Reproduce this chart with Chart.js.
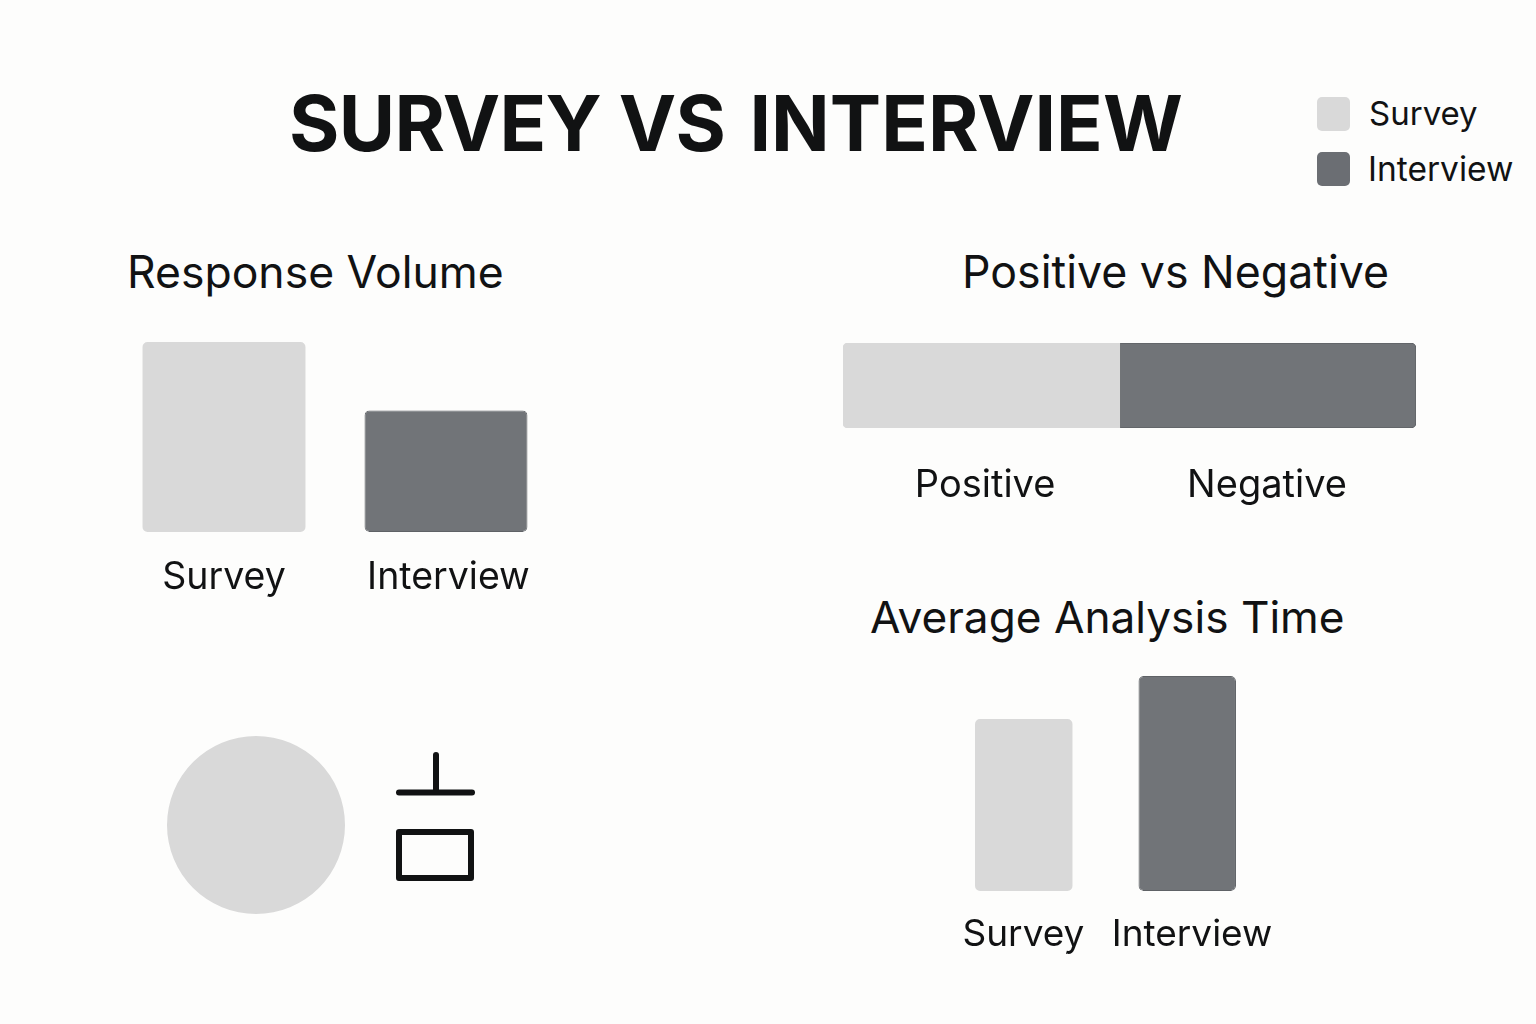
<!DOCTYPE html>
<html lang="en">
<head>
<meta charset="utf-8">
<title>Survey vs Interview</title>
<script src="https://cdn.jsdelivr.net/npm/chart.js@4"></script>
<style>
  html, body { margin: 0; padding: 0; width: 1536px; height: 1024px; overflow: hidden; background: #fdfdfc; }
  body { position: relative; font-family: Inter, "Noto Sans", sans-serif; color: #111213; }
  .t { position: absolute; white-space: nowrap; line-height: 1; margin: 0; font-weight: 400; }
  canvas { position: absolute; }
  .sw { position: absolute; width: 33px; height: 34px; border-radius: 5px; }
  svg { position: absolute; left: 380px; top: 740px; }
</style>
</head>
<body>
<h1 class="t" style="left:289px;top:85px;font-size:77px;font-weight:700;"><span style="letter-spacing:-0.7px;">SURVEY VS</span><span style="margin-left:6px;"> INTERVIEW</span></h1>
<h2 class="t" style="left:127px;top:250px;font-size:44.5px;">Response Volume</h2>
<h2 class="t" style="left:962px;top:250px;font-size:44.7px;">Positive vs Negative</h2>
<h2 class="t" style="left:870px;top:595px;font-size:44.2px;">Average Analysis Time</h2>

<div class="sw" style="left:1317px;top:97px;background:#d9d9d9;"></div>
<div class="sw" style="left:1317px;top:152px;background:#6b6e73;"></div>
<div class="t" style="left:1369px;top:97px;font-size:33px;">Survey</div>
<div class="t" style="left:1368px;top:153px;font-size:33.5px;">Interview</div>

<canvas id="volume" width="444" height="270" style="left:113px;top:342px;"></canvas>
<canvas id="polarity" width="573" height="175" style="left:843px;top:343px;"></canvas>
<canvas id="time" width="347" height="295" style="left:941.5px;top:676px;"></canvas>
<canvas id="circle" width="178" height="178" style="left:166.5px;top:736px;"></canvas>

<svg width="110" height="150" viewBox="380 740 110 150" fill="none" stroke="#111213" stroke-width="6" stroke-linecap="round" stroke-linejoin="round">
  <path d="M436 755V792"/>
  <path d="M399 792.5H472"/>
  <rect x="399" y="832" width="72" height="46"/>
</svg>

<script>
const LIGHT = '#d9d9d9';
const DARK = '#717478';
const EDGE = '#5f6266';
const INK = '#111213';

const volumeLabels = ['Survey', 'Interview'];
const volumeValues = [100, 64];
const volumeLabelAt = [0.5, 1.511];

const polarityLabels = ['Positive', 'Negative'];
const polarityValues = [48.3, 51.7];
const polarityLabelAt = [24.8, 74];

const timeLabels = ['Survey', 'Interview'];
const timeValues = [80, 100];
const timeLabelAt = [0.498, 1.529];

const circleValues = [100];

Chart.defaults.font.family = 'Inter, "Noto Sans", sans-serif';
Chart.defaults.animation = false;
Chart.defaults.responsive = false;
Chart.defaults.plugins.legend.display = false;
Chart.defaults.plugins.tooltip.enabled = false;

function labelAxis(labels, at, min, max, height, pad, size, stacked) {
  return {
    type: 'linear',
    position: 'bottom',
    offset: false,
    stacked: stacked,
    min: min,
    max: max,
    grid: { display: false },
    border: { display: false },
    afterBuildTicks(s) { s.ticks = at.map(v => ({ value: v })); },
    afterFit(s) { s.height = height; s.paddingLeft = 0; s.paddingRight = 0; },
    ticks: {
      color: INK,
      font: { size: size },
      padding: pad,
      autoSkip: false,
      maxRotation: 0,
      callback: (v, i) => labels[i]
    }
  };
}

function barOptions(labels, at, pad, size, rightPad) {
  return {
    layout: { padding: { right: rightPad } },
    scales: {
      x: { display: false },
      xTicks: labelAxis(labels, at, 0, labels.length, 80, pad, size, false),
      y: { display: false, min: 0, max: 100 }
    }
  };
}

new Chart(document.getElementById('volume'), {
  type: 'bar',
  data: {
    labels: volumeLabels,
    datasets: [{
      data: volumeValues,
      backgroundColor: [LIGHT, DARK],
      borderColor: [LIGHT, EDGE],
      borderWidth: [0, 1],
      borderSkipped: false,
      borderRadius: 5,
      categoryPercentage: 1,
      barPercentage: 0.734
    }]
  },
  options: barOptions(volumeLabels, volumeLabelAt, 15, 37.5, 0)
});

new Chart(document.getElementById('time'), {
  type: 'bar',
  data: {
    labels: timeLabels,
    datasets: [{
      data: timeValues,
      backgroundColor: [LIGHT, DARK],
      borderColor: [LIGHT, EDGE],
      borderWidth: [0, 1],
      borderSkipped: false,
      borderRadius: 5,
      categoryPercentage: 1,
      barPercentage: 0.596
    }]
  },
  options: barOptions(timeLabels, timeLabelAt, 14, 37, 20)
});

new Chart(document.getElementById('polarity'), {
  type: 'bar',
  data: {
    labels: [''],
    datasets: [
      {
        label: polarityLabels[0],
        data: [polarityValues[0]],
        backgroundColor: LIGHT,
        borderWidth: 0,
        borderSkipped: false,
        borderRadius: { topLeft: 5, bottomLeft: 5, topRight: 0, bottomRight: 0 },
        categoryPercentage: 1,
        barPercentage: 1
      },
      {
        label: polarityLabels[1],
        data: [polarityValues[1]],
        backgroundColor: DARK,
        borderColor: EDGE,
        borderWidth: 1,
        borderSkipped: false,
        borderRadius: { topLeft: 0, bottomLeft: 0, topRight: 5, bottomRight: 5 },
        categoryPercentage: 1,
        barPercentage: 1
      }
    ]
  },
  options: {
    indexAxis: 'y',
    layout: { padding: 0 },
    scales: {
      x: labelAxis(polarityLabels, polarityLabelAt, 0, 100, 90, 27, 38, true),
      y: { display: false, stacked: true }
    }
  }
});

new Chart(document.getElementById('circle'), {
  type: 'pie',
  data: { datasets: [{ data: circleValues, backgroundColor: [LIGHT], borderWidth: 0 }] },
  options: { layout: { padding: 0 } }
});
</script>
</body>
</html>
